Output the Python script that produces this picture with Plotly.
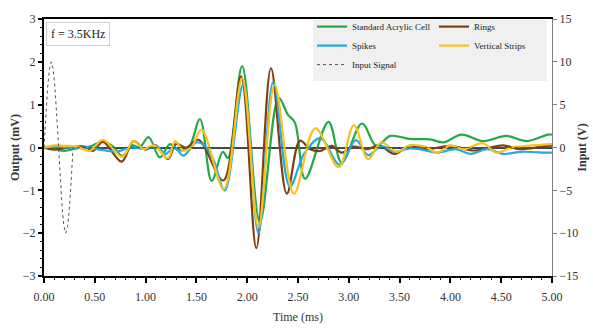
import plotly.graph_objects as go

# ---- data (time in ms, output in mV, input in V) ----
t_std = [0.00, 0.10, 0.20, 0.32, 0.45, 0.58, 0.68, 0.77, 0.87, 0.94, 1.03, 1.14, 1.24, 1.31, 1.42,
         1.535, 1.65, 1.76, 1.81, 1.95, 2.125, 2.31, 2.40, 2.47, 2.57, 2.80, 2.93, 3.13, 3.27, 3.41,
         3.60, 3.80, 3.93, 4.11, 4.32, 4.55, 4.75, 4.96, 5.00]
v_std = [0.00, -0.03, -0.08, -0.02, 0.02, 0.14, 0.02, -0.20, 0.05, 0.00, 0.24, -0.23, 0.08, -0.05, -0.02,
         0.66, -0.78, -0.10, -0.25, 1.90, -1.74, 1.16, 0.77, 0.58, -0.73, 0.60, -0.35, 0.56, 0.04, 0.27,
         0.20, 0.19, 0.12, 0.30, 0.15, 0.27, 0.15, 0.30, 0.30]

t_rings = [0.00, 0.10, 0.25, 0.40, 0.48, 0.58, 0.765, 0.88, 1.00, 1.10, 1.22, 1.30, 1.40, 1.52, 1.765,
           1.94, 2.09, 2.234, 2.39, 2.52, 2.62, 2.72, 2.83, 2.93, 3.04, 3.18, 3.30, 3.45, 3.60, 3.77,
           4.00, 4.23, 4.52, 4.68, 4.95, 5.00]
v_rings = [0.00, -0.05, 0.00, 0.02, -0.08, 0.13, -0.33, 0.15, -0.05, 0.05, -0.27, 0.08, 0.00, 0.18, -0.77,
           1.66, -2.35, 1.85, -1.08, 0.16, -0.04, -0.08, 0.04, -0.12, 0.02, -0.04, 0.05, -0.15, 0.04, -0.04,
           0.04, -0.07, 0.05, -0.04, 0.04, 0.04]

t_spikes = [0.00, 0.15, 0.30, 0.45, 0.55, 0.72, 0.85, 1.00, 1.10, 1.20, 1.28, 1.37, 1.50, 1.58, 1.67,
            1.78, 1.96, 2.11, 2.257, 2.42, 2.56, 2.72, 2.91, 3.07, 3.19, 3.32, 3.45, 3.60, 3.72, 3.87,
            4.05, 4.20, 4.36, 4.52, 4.70, 4.95, 5.00]
v_spikes = [0.00, 0.02, -0.02, 0.00, -0.05, -0.09, 0.00, -0.03, 0.04, -0.15, 0.02, -0.19, 0.12, 0.05, -0.30,
            -1.00, 1.47, -2.00, 1.54, -0.91, -0.15, 0.22, -0.40, 0.17, -0.18, 0.03, -0.10, -0.02, -0.05, -0.12,
            -0.04, -0.15, -0.04, -0.15, -0.10, -0.12, -0.12]

t_strips = [0.00, 0.10, 0.20, 0.32, 0.45, 0.58, 0.77, 0.88, 0.98, 1.08, 1.22, 1.29, 1.37, 1.45, 1.55,
            1.77, 1.95, 2.11, 2.27, 2.46, 2.67, 2.90, 3.05, 3.19, 3.32, 3.47, 3.60, 3.75, 3.87, 4.00,
            4.13, 4.32, 4.45, 4.60, 4.80, 5.00]
v_strips = [0.00, 0.05, 0.04, 0.02, -0.08, 0.18, -0.22, 0.15, -0.03, 0.05, -0.25, 0.15, -0.07, 0.00, 0.42,
            -0.97, 1.62, -1.86, 1.47, -1.08, 0.45, -0.46, 0.52, -0.27, 0.12, -0.10, 0.05, 0.02, -0.12, 0.05,
            -0.04, 0.10, -0.12, 0.00, 0.05, 0.08]

t_input = [0.0, 0.018, 0.036, 0.054, 0.071, 0.089, 0.107, 0.125, 0.143, 0.161, 0.179, 0.196, 0.214,
           0.232, 0.250, 0.268, 0.286, 5.0]
v_input = [0.0, 3.8, 7.1, 9.2, 10.0, 9.2, 7.1, 3.8, 0.0, -3.8, -7.1, -9.2, -10.0, -9.2, -7.1, -3.8, 0.0, 0.0]

names = ["Standard Acrylic Cell", "Rings", "Spikes", "Vertical Strips", "Input Signal"]
x_ticks = [0, 0.5, 1, 1.5, 2, 2.5, 3, 3.5, 4, 4.5, 5]

FONT = "Liberation Serif"
GREEN, BROWN, BLUE, YELLOW = "#23a84c", "#7e3f12", "#22aae4", "#f8c21c"

# plot-area geometry in pixels (used only to place the legend box / annotation)
L, R, T, B, W, H = 44, 552, 15, 276, 593, 329
PW, PH = R - L, B - T
px = lambda x: (x - L) / PW
py = lambda y: (B - y) / PH

fig = go.Figure()
series = [
    (t_std, v_std, names[0], GREEN, "legend"),
    (t_rings, v_rings, names[1], BROWN, "legend2"),
    (t_spikes, v_spikes, names[2], BLUE, "legend"),
    (t_strips, v_strips, names[3], YELLOW, "legend2"),
]
for tx, vy, nm, col, lg in series:
    fig.add_trace(go.Scatter(x=tx, y=vy, name=nm, mode="lines",
                             line=dict(color=col, width=2.2, shape="spline", smoothing=1.0),
                             legend=lg))
fig.add_trace(go.Scatter(x=t_input, y=v_input, name=names[4], mode="lines", yaxis="y2",
                         line=dict(color="#555555", width=1, dash="dot", shape="linear"),
                         legend="legend"))

tickfont = dict(family=FONT, size=12, color="#333333")
fig.update_layout(
    width=W, height=H,
    margin=dict(l=L, r=W - R, t=T, b=H - B),
    paper_bgcolor="white", plot_bgcolor="white",
    font=dict(family=FONT, size=12, color="#333333"),
    xaxis=dict(range=[0, 5], tickvals=x_ticks, tickformat=".2f", ticks="outside", ticklen=5,
               tickwidth=1.5, tickcolor="black", minor=dict(ticks="outside", dtick=0.1, ticklen=2,
               tickwidth=1, tickcolor="black"), ticklabelstandoff=4,
               showline=True, linewidth=2, linecolor="black", mirror=True, showgrid=False,
               zeroline=False, tickfont=tickfont, automargin=False,
               title=dict(text="Time (ms)", font=dict(family=FONT, size=12, color="#333333"), standoff=9)),
    xaxis3=dict(overlaying="x", anchor="y", side="bottom", range=[0, 5], tickvals=x_ticks,
                ticks="inside", ticklen=4, tickwidth=1.5, tickcolor="black",
                minor=dict(ticks="inside", dtick=0.1, ticklen=2, tickwidth=1, tickcolor="black"),
                showticklabels=False, showline=False, showgrid=False, zeroline=False, automargin=False),
    yaxis=dict(range=[-3, 3], dtick=1, ticks="outside", ticklen=4, tickwidth=1.5, tickcolor="black",
               minor=dict(ticks="outside", dtick=0.2, ticklen=2, tickwidth=1, tickcolor="black"),
               showline=True, linewidth=2, linecolor="black", showgrid=False, automargin=False,
               zeroline=True, zerolinecolor="#444444", zerolinewidth=1.5, tickfont=tickfont,
               title=dict(text="<b>Output (mV)</b>", font=dict(family=FONT, size=12, color="#333333"),
                          standoff=1)),
    yaxis2=dict(range=[-15, 15], dtick=5, overlaying="y", side="right", anchor="x",
                ticks="outside", ticklen=4, tickcolor="#808080", showline=True, linewidth=1,
                linecolor="#808080", showgrid=False, zeroline=False, tickfont=tickfont,
                automargin=False,
                title=dict(text="<b>Input (V)</b>", font=dict(family=FONT, size=12, color="#333333"),
                           standoff=0)),
    legend=dict(x=px(312), y=py(8), xanchor="left", yanchor="top",
                bgcolor="rgba(0,0,0,0)", font=dict(family=FONT, size=9, color="#222222"),
                tracegroupgap=0),
    legend2=dict(x=px(434), y=py(8), xanchor="left", yanchor="top",
                 bgcolor="rgba(0,0,0,0)", font=dict(family=FONT, size=9, color="#222222"),
                 tracegroupgap=0),
    showlegend=True,
    shapes=[dict(type="rect", xref="paper", yref="paper",
                 x0=px(313), x1=px(547), y0=py(78), y1=py(16),
                 fillcolor="#f0f0f0", line=dict(width=0), layer="below")],
    annotations=[dict(text="f = 3.5KHz", xref="paper", yref="paper",
                      x=px(46), y=py(18), xanchor="left", yanchor="top",
                      showarrow=False, font=dict(family=FONT, size=12, color="#222222"),
                      bgcolor="white", bordercolor="#d0d0d0", borderwidth=1, borderpad=4)],
)

fig.write_html("out.html", config={"displayModeBar": False},
               post_script="document.body.style.margin='0';document.body.style.padding='0';")
